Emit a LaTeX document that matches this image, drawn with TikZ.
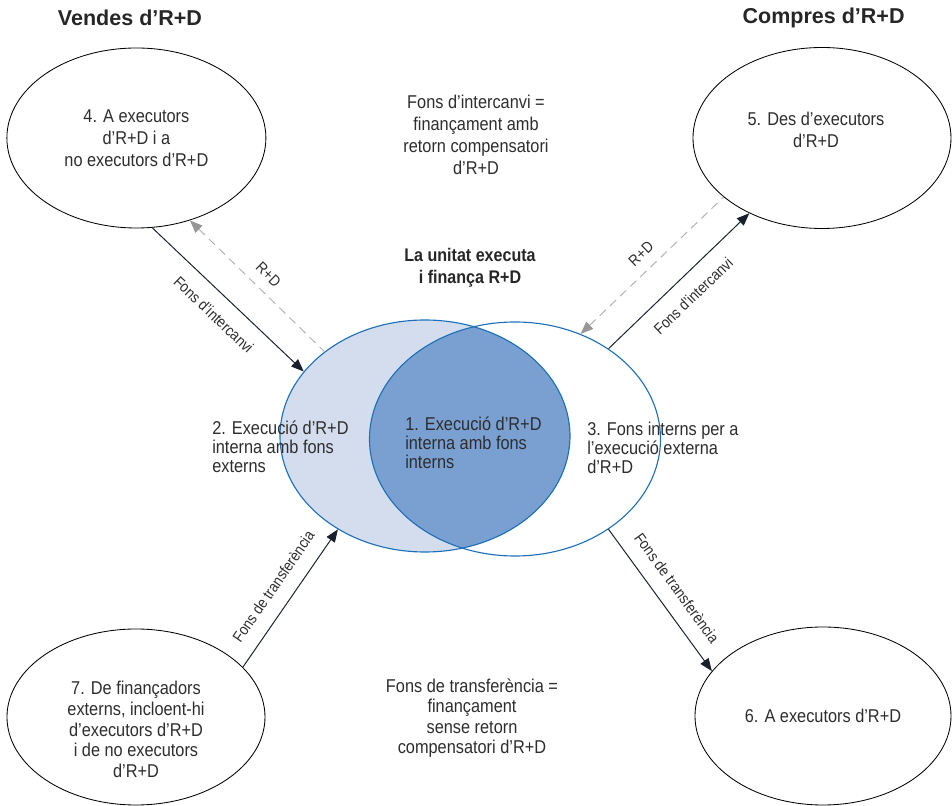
\documentclass[tikz,border=0pt]{standalone}
\usepackage{fontspec}
\setmainfont{Liberation Sans}
\newfontfamily\condfont{Liberation Sans}[FakeStretch=0.88]
\usetikzlibrary{shapes.geometric, arrows.meta, positioning}
\definecolor{vennline}{RGB}{28, 112, 184}
\definecolor{vennlight}{RGB}{212, 221, 238}
\definecolor{venndark}{RGB}{122, 160, 210}
\definecolor{flowdark}{RGB}{24, 32, 46}
\definecolor{flowgrey}{RGB}{178, 178, 178}
\definecolor{headgrey}{RGB}{150, 150, 150}
\definecolor{inktext}{RGB}{45, 45, 45}

\begin{document}
\begin{tikzpicture}[
  oval/.style={draw=black, line width=0.6pt, ellipse, inner sep=0pt, align=center, text=inktext, font=\condfont\fontsize{13.2}{15.6}\selectfont},
  venn/.style={draw=vennline, line width=0.8pt, ellipse, inner sep=0pt},
  note/.style={align=center, text=inktext, font=\condfont\fontsize{13.2}{15.6}\selectfont},
  part/.style={anchor=west, align=left, inner sep=0pt, text=inktext, font=\condfont\fontsize{13.2}{13.6}\selectfont},
  head/.style={text=black!85, font=\bfseries\fontsize{15.3}{18}\selectfont},
  flow/.style={draw=flowdark, line width=0.7pt, -{Triangle[length=9pt, width=7pt]}},
  back/.style={draw=flowgrey, line width=0.7pt, dash pattern=on 6pt off 4pt, {Triangle[length=9pt, width=7pt, color=headgrey]}-},
  lbl/.style={sloped, midway, text=inktext, font=\condfont\fontsize{11}{12}\selectfont}
]
  \useasboundingbox (-11.9, -10.075) rectangle (11.9, 10.075);

  \node[head] (sales) at (-8.65, 9.625) {Vendes d’R+D};
  \node[head] (buys) at (8.69, 9.625) {Compres d’R+D};

  \node[oval, minimum width=6.475cm, minimum height=4.5cm] (e4) at (-8.49, 6.625) {4. A executors\\d’R+D i a\\no executors d’R+D};
  \node[oval, minimum width=6.45cm, minimum height=4.525cm] (e5) at (8.65, 6.625) {};
  \node[note] (t5) at (8.5, 6.83) {5. Des d’executors\\d’R+D};
  \node[oval, minimum width=6.45cm, minimum height=4.4cm] (e7) at (-8.5, -7.85) {};
  \node[note, font=\condfont\fontsize{13.2}{14.9}\selectfont] (t7) at (-8.5, -8.16) {7. De finançadors\\externs, incloent-hi\\d’executors d’R+D\\i de no executors\\d’R+D};
  \node[oval, minimum width=6.4cm, minimum height=4.45cm] (e6) at (8.675, -7.825) {6. A executors d’R+D};

  \coordinate (cl) at (-1.275, -0.825);
  \coordinate (cr) at (0.975, -0.9);
  \fill[vennlight] (cl) ellipse [x radius=3.625cm, y radius=2.9cm];
  \begin{scope}
    \clip (cl) ellipse [x radius=3.625cm, y radius=2.9cm];
    \fill[venndark] (cr) ellipse [x radius=3.6375cm, y radius=2.925cm];
  \end{scope}
  \node[venn, minimum width=7.25cm, minimum height=5.8cm] (cleft) at (cl) {};
  \node[venn, minimum width=7.275cm, minimum height=5.85cm] (cright) at (cr) {};

  \node[part] (ext) at (-6.6, -1.1) {2. Execució d’R+D\\interna amb fons\\externs};
  \node[part] (own) at (-1.775, -0.99) {1. Execució d’R+D\\interna amb fons\\interns};
  \node[part] (out) at (2.775, -1.125) {3. Fons interns per a\\l’execució externa\\d’R+D};

  \node[align=center, text=black!85, font=\condfont\bfseries\fontsize{13}{15.4}\selectfont] (unit) at (-0.15, 3.375) {La unitat executa\\i finança R+D};
  \node[note] (swap) at (0, 6.7) {Fons d’intercanvi =\\finançament amb\\retorn compensatori\\d’R+D};
  \node[note, font=\condfont\fontsize{13.2}{14.6}\selectfont] (grant) at (-0.1, -7.875) {Fons de transferència =\\finançament\\sense retorn\\compensatori d’R+D};

  \draw[flow] (e4.-80) -- (cleft.152) node[lbl, below=7pt] {Fons d’intercanvi};
  \draw[back] (e4.-57) -- (cleft.140) node[lbl, above=4pt] {R+D};
  \draw[flow] (cright.44) -- (e5.226) node[lbl, below=7pt] {Fons d’intercanvi};
  \draw[back] (cright.58) -- (e5.211) node[lbl, above=4pt] {R+D};
  \draw[flow] (e7.25) -- (cleft.227) node[lbl, above=7pt] {Fons de transferència};
  \draw[flow] (cright.-44) -- (e6.158) node[lbl, above=7pt] {Fons de transferència};
\end{tikzpicture}
\end{document}
